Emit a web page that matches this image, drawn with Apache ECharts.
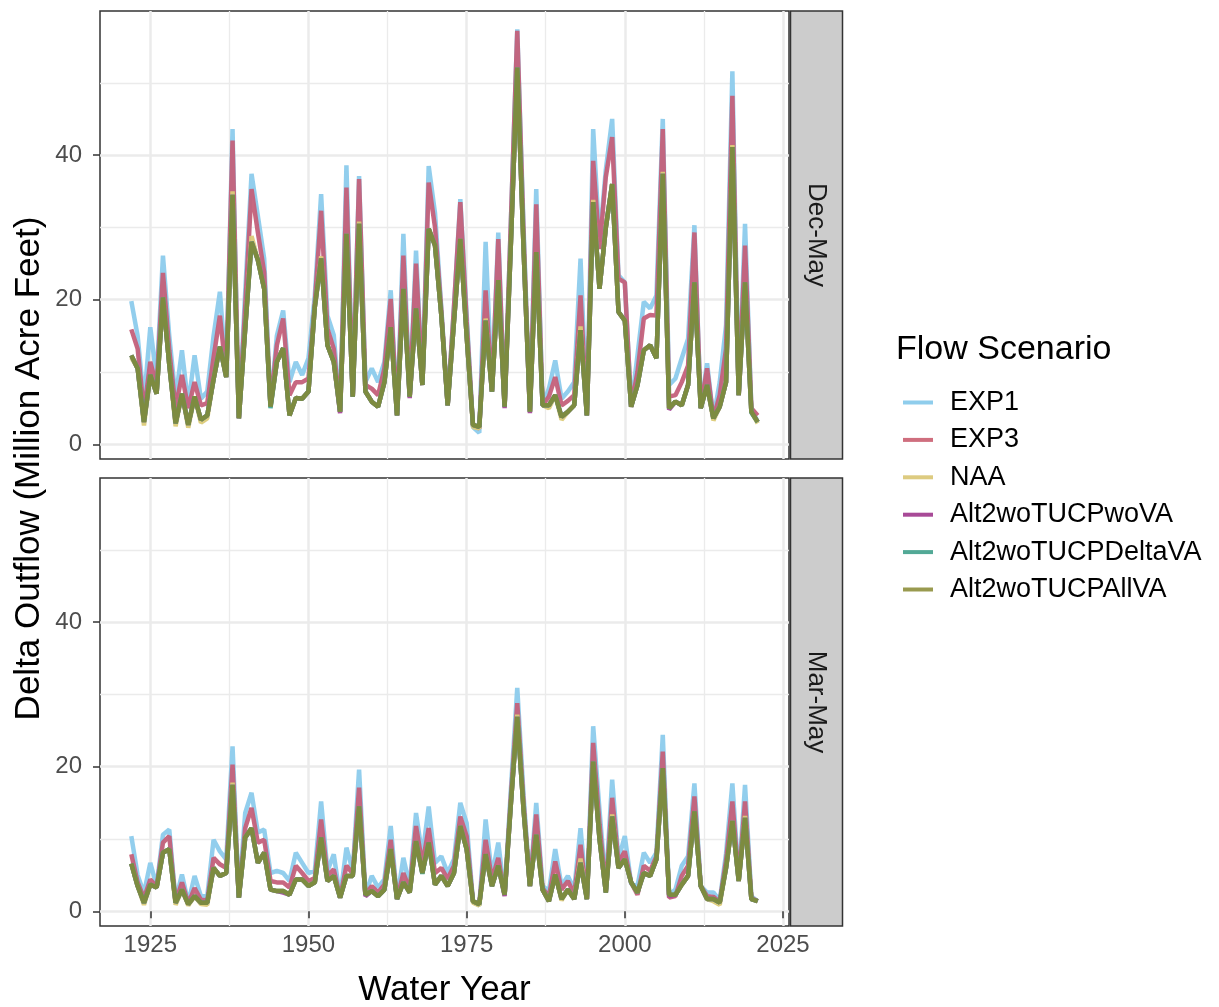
<!DOCTYPE html>
<html>
<head>
<meta charset="utf-8">
<script src="https://cdn.jsdelivr.net/npm/echarts@6/dist/echarts.min.js"></script>
<style>
  html, body { margin: 0; padding: 0; background: #fff; }
  #chart { width: 1219px; height: 1007px; }
</style>
</head>
<body>
<div id="chart"></div>
<script>
// water years 1922..2021
const years = [];
for (let y = 1922; y <= 2021; y++) years.push(y);

const scenarioNames = ["EXP1", "EXP3", "NAA", "Alt2woTUCPwoVA", "Alt2woTUCPDeltaVA", "Alt2woTUCPAllVA"];
// line colours as they show in the panels, and as they show in the legend keys
const lineColors = ["#8ccbec", "#c4607a", "#dccb78", "#a8479a", "#46a996", "#7f8a3b"];
const keyColors = ["#8fcdec", "#cf6e7e", "#ddcb80", "#a84a97", "#52a996", "#999a4f"];
const facetLabels = ["Dec-May", "Mar-May"];

const xTicks = [1925, 1950, 1975, 2000, 2025];
const xMinorTicks = [1937.5, 1962.5, 1987.5, 2012.5];
const yTicks = [0, 20, 40];
const yMinorTicks = [10, 30, 50];

// Dec-May outflow, million acre feet
const decMayExp1 = [
  19.8, 15.0, 5.9, 16.2, 9.1, 26.1, 15.0, 6.3, 13.0, 5.4,
  12.3, 6.3, 7.3, 15.0, 21.1, 9.6, 43.6, 3.6, 21.0, 37.4,
  31.6, 25.7, 5.4, 15.0, 18.5, 8.6, 11.4, 9.6, 11.9, 20.6,
  34.6, 17.8, 15.1, 4.5, 38.6, 6.6, 37.1, 8.6, 10.5, 8.6,
  11.4, 21.3, 4.0, 29.1, 6.6, 26.8, 8.2, 38.5, 32.0, 18.8,
  5.4, 19.0, 33.9, 18.0, 2.4, 1.6, 28.0, 7.3, 29.3, 5.2,
  31.0, 57.4, 30.0, 4.5, 35.3, 5.4, 7.7, 11.6, 6.3, 7.3,
  8.6, 25.7, 4.0, 43.6, 28.0, 38.0, 45.0, 23.4, 22.4, 5.2,
  12.3, 19.7, 18.8, 20.6, 45.0, 8.2, 9.1, 11.9, 14.6, 30.3,
  5.0, 11.2, 3.6, 8.6, 16.5, 51.6, 6.8, 30.5, 5.0, 3.1
];
const decMayExp3 = [
  15.9, 13.2, 4.5, 11.4, 8.0, 23.7, 13.0, 5.0, 9.6, 5.0,
  8.6, 5.4, 5.7, 12.0, 17.8, 9.6, 42.0, 3.6, 19.0, 35.3,
  29.3, 23.8, 5.4, 13.7, 17.4, 6.8, 8.6, 8.6, 9.1, 19.5,
  32.3, 16.0, 13.2, 4.5, 35.5, 6.6, 36.7, 8.2, 7.7, 6.8,
  10.5, 20.1, 4.0, 26.1, 6.6, 25.0, 8.2, 36.2, 30.0, 18.5,
  5.4, 19.0, 33.5, 17.0, 2.6, 2.2, 21.3, 7.3, 28.4, 5.2,
  31.0, 57.2, 29.0, 4.5, 33.2, 5.4, 6.6, 9.3, 5.4, 6.0,
  6.8, 20.6, 4.0, 39.2, 27.0, 37.0, 42.5, 22.9, 22.4, 5.2,
  10.0, 17.4, 17.9, 17.8, 43.6, 6.6, 6.8, 8.6, 10.9, 29.3,
  5.0, 10.5, 3.6, 6.8, 13.2, 48.2, 6.8, 27.5, 5.0, 4.0
];
const decMayNaa = [
  12.0, 10.5, 2.6, 9.6, 7.0, 20.3, 11.0, 2.5, 7.0, 2.3,
  6.6, 3.0, 3.6, 9.0, 13.5, 9.3, 35.0, 3.6, 16.0, 28.8,
  25.5, 21.5, 5.2, 11.4, 13.3, 4.0, 6.4, 6.3, 7.3, 19.0,
  26.0, 13.7, 11.4, 4.5, 29.1, 6.6, 30.8, 7.3, 5.9, 5.2,
  8.6, 16.2, 4.0, 21.5, 6.6, 18.8, 8.2, 29.8, 27.5, 17.8,
  5.4, 17.0, 28.4, 15.0, 2.4, 2.2, 17.4, 7.3, 22.7, 5.2,
  28.0, 52.1, 27.0, 4.5, 26.6, 5.4, 5.0, 6.8, 3.4, 4.5,
  5.4, 16.3, 4.0, 33.8, 21.5, 30.0, 36.0, 18.3, 17.1, 5.2,
  8.2, 13.0, 13.7, 11.9, 37.7, 5.0, 5.9, 5.4, 8.2, 22.4,
  5.0, 8.2, 3.3, 5.2, 8.6, 41.4, 6.8, 22.4, 4.5, 2.9
];
const decMayWoVA = [
  12.3, 10.5, 3.1, 9.6, 7.0, 20.3, 11.0, 2.9, 7.0, 2.7,
  6.6, 3.4, 4.0, 9.0, 13.5, 9.3, 34.5, 3.6, 16.0, 28.0,
  25.5, 21.5, 5.2, 11.4, 13.3, 4.0, 6.4, 6.3, 7.3, 19.0,
  25.7, 13.7, 11.4, 4.3, 29.1, 6.6, 30.5, 7.3, 5.9, 5.2,
  8.6, 16.2, 4.0, 21.5, 6.4, 18.8, 8.2, 29.8, 27.5, 17.8,
  5.4, 17.0, 28.4, 15.0, 2.7, 2.4, 17.1, 7.3, 22.7, 5.0,
  28.0, 52.1, 27.0, 4.3, 26.6, 5.4, 5.4, 6.8, 3.8, 4.5,
  5.4, 15.8, 4.0, 33.5, 21.5, 30.0, 36.0, 18.3, 17.1, 5.2,
  8.2, 13.0, 13.7, 11.9, 37.4, 4.8, 5.9, 5.4, 8.2, 22.4,
  5.0, 8.2, 3.6, 5.2, 8.6, 41.1, 6.8, 22.4, 4.5, 3.1
];
const decMayDeltaVA = [
  12.3, 10.5, 3.1, 9.6, 7.0, 20.3, 11.0, 2.9, 7.0, 2.7,
  6.6, 3.4, 4.0, 9.0, 13.5, 9.3, 34.5, 3.6, 16.0, 28.0,
  25.5, 21.5, 5.0, 11.4, 13.3, 4.0, 6.4, 6.3, 7.3, 19.0,
  25.7, 13.7, 11.4, 4.5, 29.1, 6.6, 30.5, 7.3, 5.9, 5.2,
  8.6, 16.2, 4.0, 21.5, 6.6, 18.8, 8.2, 29.8, 27.5, 17.8,
  5.4, 17.0, 28.4, 15.0, 2.7, 2.4, 17.1, 7.3, 22.7, 5.2,
  28.0, 52.1, 27.0, 4.5, 26.6, 5.4, 5.4, 6.8, 3.8, 4.5,
  5.4, 15.8, 4.0, 33.5, 21.5, 30.0, 36.0, 18.3, 17.1, 5.2,
  8.2, 13.0, 13.7, 11.9, 37.4, 5.0, 5.9, 5.4, 8.2, 22.4,
  5.0, 8.2, 3.6, 5.2, 8.6, 41.1, 6.8, 22.4, 4.4, 3.1
];
const decMayAllVA = [
  12.3, 10.5, 3.1, 9.6, 7.0, 20.3, 11.0, 2.9, 7.0, 2.7,
  6.6, 3.4, 4.0, 9.0, 13.5, 9.3, 34.5, 3.6, 16.0, 28.0,
  25.5, 21.5, 5.2, 11.4, 13.3, 4.0, 6.4, 6.3, 7.3, 19.0,
  25.7, 13.7, 11.4, 4.5, 29.1, 6.6, 30.5, 7.3, 5.9, 5.2,
  8.6, 16.2, 4.0, 21.5, 6.6, 18.8, 8.2, 29.8, 27.5, 17.8,
  5.4, 17.0, 28.4, 15.0, 2.7, 2.4, 17.1, 7.3, 22.7, 5.2,
  28.0, 52.1, 27.0, 4.5, 26.6, 5.4, 5.4, 6.8, 3.8, 4.5,
  5.4, 15.8, 4.0, 33.5, 21.5, 30.0, 36.0, 18.3, 17.1, 5.2,
  8.2, 13.0, 13.7, 11.9, 37.4, 5.0, 5.9, 5.4, 8.2, 22.4,
  5.0, 8.2, 3.6, 5.2, 8.6, 41.1, 6.8, 22.4, 4.5, 3.1
];

// Mar-May outflow, million acre feet
const marMayExp1 = [
  10.4, 5.0, 2.5, 6.7, 3.5, 10.6, 11.3, 1.5, 5.1, 1.2,
  4.9, 2.1, 2.1, 9.9, 8.3, 7.2, 22.8, 1.9, 13.6, 16.4,
  10.9, 11.3, 5.3, 5.6, 5.3, 4.2, 8.1, 6.7, 5.3, 5.6,
  15.2, 5.6, 7.9, 1.9, 8.8, 5.6, 19.6, 2.3, 4.9, 3.3,
  4.4, 11.8, 1.7, 7.4, 3.5, 13.6, 7.6, 14.5, 6.7, 7.6,
  5.3, 7.2, 15.0, 12.2, 1.4, 0.8, 12.7, 4.9, 9.5, 2.3,
  17.0, 30.9, 16.0, 3.5, 15.0, 3.5, 2.8, 8.6, 3.5, 4.9,
  3.0, 11.5, 1.7, 25.6, 14.0, 3.5, 18.2, 7.2, 10.4, 3.8,
  3.5, 8.1, 6.7, 8.1, 24.4, 2.3, 3.0, 6.3, 7.6, 17.7,
  3.5, 2.6, 2.6, 1.5, 8.0, 17.7, 4.4, 17.5, 2.1, 1.4
];
const marMayExp3 = [
  7.9, 4.0, 1.8, 4.4, 3.4, 9.5, 10.4, 1.3, 4.0, 1.1,
  3.2, 1.6, 1.5, 7.4, 6.5, 6.0, 20.3, 1.9, 11.5, 14.3,
  9.5, 9.9, 4.2, 4.0, 4.0, 3.3, 6.3, 5.3, 4.2, 4.6,
  12.7, 4.9, 5.8, 1.9, 6.3, 5.2, 17.1, 2.3, 3.5, 2.6,
  3.7, 9.9, 1.7, 5.3, 3.0, 11.8, 6.5, 11.5, 5.3, 6.0,
  4.5, 6.3, 13.1, 10.4, 1.4, 1.0, 9.9, 4.4, 7.4, 2.3,
  16.0, 28.8, 15.0, 3.5, 13.4, 3.2, 2.0, 6.9, 3.0, 4.2,
  2.4, 9.2, 1.7, 23.3, 12.0, 3.0, 15.7, 6.8, 8.3, 4.0,
  2.3, 6.3, 5.6, 7.6, 22.1, 1.9, 2.1, 4.9, 6.3, 15.9,
  3.5, 2.1, 2.0, 1.3, 7.0, 15.2, 4.3, 15.2, 1.9, 1.4
];
const marMayNaa = [
  6.6, 3.5, 0.9, 3.7, 3.3, 8.1, 8.6, 0.9, 3.0, 0.8,
  2.1, 1.0, 0.9, 6.0, 4.9, 5.3, 17.8, 1.9, 10.2, 11.5,
  6.7, 8.1, 3.0, 2.8, 2.8, 2.3, 4.4, 4.4, 3.5, 4.0,
  10.2, 4.2, 4.9, 1.9, 4.9, 4.9, 14.5, 2.3, 2.8, 2.1,
  3.0, 8.6, 1.7, 4.0, 2.6, 9.7, 5.3, 9.5, 3.7, 4.9,
  3.5, 5.3, 11.8, 8.6, 1.2, 0.8, 7.9, 3.5, 6.3, 2.3,
  15.0, 27.2, 14.0, 3.5, 10.6, 3.0, 1.4, 5.1, 1.5, 3.0,
  1.7, 7.3, 1.7, 20.7, 10.0, 2.6, 13.4, 6.0, 7.2, 4.0,
  2.6, 5.3, 4.9, 7.2, 19.8, 2.3, 2.3, 3.7, 4.9, 13.8,
  3.5, 1.7, 1.4, 0.9, 6.0, 12.5, 4.2, 13.2, 1.7, 1.4
];
const marMayWoVA = [
  6.6, 3.5, 1.2, 3.7, 3.3, 8.1, 8.6, 1.2, 3.0, 1.0,
  2.1, 1.2, 1.2, 6.0, 4.9, 5.3, 17.5, 1.9, 10.2, 11.5,
  6.7, 8.1, 3.0, 2.8, 2.6, 2.3, 4.4, 4.4, 3.5, 4.0,
  10.2, 4.2, 4.9, 1.9, 4.9, 4.9, 14.5, 2.1, 2.8, 2.1,
  3.0, 8.6, 1.7, 4.0, 2.6, 9.7, 5.3, 9.5, 3.7, 4.9,
  3.5, 5.3, 11.8, 8.6, 1.4, 1.0, 7.9, 3.5, 6.3, 2.1,
  15.0, 26.9, 14.0, 3.5, 10.6, 3.0, 1.4, 5.1, 1.7, 3.0,
  1.7, 6.7, 1.7, 20.7, 10.0, 2.6, 13.1, 6.0, 7.2, 4.0,
  2.6, 5.3, 4.9, 7.2, 19.8, 2.1, 2.3, 3.7, 4.9, 13.8,
  3.5, 1.7, 1.7, 1.2, 6.0, 12.5, 4.2, 12.9, 1.7, 1.4
];
const marMayDeltaVA = [
  6.6, 3.5, 1.2, 3.7, 3.3, 8.1, 8.6, 1.2, 3.0, 1.0,
  2.1, 1.2, 1.2, 6.0, 4.9, 5.3, 17.5, 1.9, 10.2, 11.5,
  6.7, 8.1, 3.0, 2.8, 2.8, 2.3, 4.4, 4.4, 3.5, 4.0,
  10.2, 4.2, 4.9, 1.9, 4.9, 4.9, 14.5, 2.3, 2.8, 2.1,
  3.0, 8.6, 1.7, 4.0, 2.6, 9.7, 5.2, 9.5, 3.7, 4.9,
  3.5, 5.3, 11.8, 8.6, 1.4, 1.0, 7.9, 3.5, 6.3, 2.3,
  15.0, 26.9, 14.0, 3.5, 10.6, 3.0, 1.4, 5.1, 1.7, 3.0,
  1.7, 6.7, 1.7, 20.7, 10.0, 2.6, 13.1, 6.0, 7.2, 4.0,
  2.6, 5.3, 4.9, 7.2, 19.8, 2.3, 2.3, 3.7, 4.9, 13.8,
  3.5, 1.7, 1.7, 1.2, 6.0, 12.5, 4.2, 12.9, 1.7, 1.4
];
const marMayAllVA = [
  6.6, 3.5, 1.2, 3.7, 3.3, 8.1, 8.6, 1.2, 3.0, 1.0,
  2.1, 1.2, 1.2, 6.0, 4.9, 5.3, 17.5, 1.9, 10.2, 11.5,
  6.7, 8.1, 3.0, 2.8, 2.8, 2.3, 4.4, 4.4, 3.5, 4.0,
  10.2, 4.2, 4.9, 1.9, 4.9, 4.9, 14.5, 2.3, 2.8, 2.1,
  3.0, 8.6, 1.7, 4.0, 2.6, 9.7, 5.3, 9.5, 3.7, 4.9,
  3.5, 5.3, 11.8, 8.6, 1.4, 1.0, 7.9, 3.5, 6.3, 2.3,
  15.0, 26.9, 14.0, 3.5, 10.6, 3.0, 1.4, 5.1, 1.7, 3.0,
  1.7, 6.7, 1.7, 20.7, 10.0, 2.6, 13.1, 6.0, 7.2, 4.0,
  2.6, 5.3, 4.9, 7.2, 19.8, 2.3, 2.3, 3.7, 4.9, 13.8,
  3.5, 1.7, 1.7, 1.2, 6.0, 12.5, 4.2, 12.9, 1.7, 1.4
];

const panelData = [
  [decMayExp1, decMayExp3, decMayNaa, decMayWoVA, decMayDeltaVA, decMayAllVA],
  [marMayExp1, marMayExp3, marMayNaa, marMayWoVA, marMayDeltaVA, marMayAllVA],
];

const font = "'Liberation Sans', Arial, Helvetica, sans-serif";
const plotLeft = 100, plotWidth = 689, panelHeight = 448;
const panelTops = [11, 478];
const stripLeft = 790.5, stripWidth = 52;
const xMin = 1917.05, xMax = 2025.95;
const yMin = -2.03, yMax = 59.93;

const chart = echarts.init(document.getElementById("chart"));

function toPairs(vals) {
  return years.map((yr, i) => [yr, vals[i]]);
}

const grids = panelTops.map((top) => ({
  left: plotLeft, top: top, width: plotWidth, height: panelHeight,
  show: true, borderColor: "#333333", borderWidth: 1.5, backgroundColor: "transparent",
}));

const xAxes = [
  // major gridlines, ticks and labels (labels only under the lower panel)
  ...panelTops.map((_, g) => ({
    type: "value", gridIndex: g, min: xMin, max: xMax,
    axisLine: { show: false },
    axisTick: { show: g === 1, customValues: xTicks, length: 7, lineStyle: { color: "#333333", width: 1.5 } },
    axisLabel: {
      show: g === 1, customValues: xTicks, fontSize: 24, color: "#4d4d4d", margin: 7, fontFamily: font,
      formatter: (v) => String(v),
    },
    splitLine: { show: true, lineStyle: { color: "#ebebeb", width: 2.5 } },
  })),
  // minor gridlines
  ...panelTops.map((_, g) => ({
    type: "value", gridIndex: g, min: xMin, max: xMax, position: "top",
    axisLine: { show: false },
    axisTick: { show: false, customValues: xMinorTicks },
    axisLabel: { show: false },
    splitLine: { show: true, lineStyle: { color: "#ebebeb", width: 1.3 } },
  })),
];

const yAxes = [
  ...panelTops.map((_, g) => ({
    type: "value", gridIndex: g, min: yMin, max: yMax,
    axisLine: { show: false },
    axisTick: { show: true, customValues: yTicks, length: 7, lineStyle: { color: "#333333", width: 1.5 } },
    axisLabel: { show: true, customValues: yTicks, fontSize: 24, color: "#4d4d4d", margin: 18, fontFamily: font },
    splitLine: { show: true, lineStyle: { color: "#ebebeb", width: 2.5 } },
  })),
  ...panelTops.map((_, g) => ({
    type: "value", gridIndex: g, min: yMin, max: yMax, position: "right",
    axisLine: { show: false },
    axisTick: { show: false, customValues: yMinorTicks },
    axisLabel: { show: false },
    splitLine: { show: true, lineStyle: { color: "#ebebeb", width: 1.3 } },
  })),
];

const series = [];
panelData.forEach((arrs, g) => {
  arrs.forEach((vals, k) => {
    series.push({
      name: scenarioNames[k],
      type: "line",
      xAxisIndex: g,
      yAxisIndex: g,
      data: toPairs(vals),
      symbol: "none",
      showSymbol: false,
      lineStyle: { color: lineColors[k], width: 4.5, opacity: 0.95 },
      itemStyle: { color: keyColors[k] },
      emphasis: { disabled: true },
    });
  });
});

const graphics = [];
panelTops.forEach((top, g) => {
  graphics.push({
    type: "rect",
    shape: { x: stripLeft, y: top, width: stripWidth, height: panelHeight },
    style: { fill: "#cccccc", stroke: "#333333", lineWidth: 1.5 },
  });
  graphics.push({
    type: "text",
    x: stripLeft + stripWidth / 2, y: top + panelHeight / 2,
    rotation: -Math.PI / 2,
    style: { text: facetLabels[g], fontSize: 26, fontFamily: font, fill: "#1a1a1a", align: "center", verticalAlign: "middle" },
  });
});
graphics.push({
  type: "text", x: 29, y: panelTops[0] + (panelTops[1] + panelHeight - panelTops[0]) / 2,
  rotation: Math.PI / 2,
  style: { text: "Delta Outflow (Million Acre Feet)", fontSize: 35, fontFamily: font, fill: "#000", align: "center", verticalAlign: "middle" },
});
graphics.push({
  type: "text", x: plotLeft + plotWidth / 2, y: 990,
  style: { text: "Water Year", fontSize: 35, fontFamily: font, fill: "#000", align: "center", verticalAlign: "middle" },
});
graphics.push({
  type: "text", x: 896, y: 350,
  style: { text: "Flow Scenario", fontSize: 34, fontFamily: font, fill: "#000", align: "left", verticalAlign: "middle" },
});

chart.setOption({
  animation: false,
  backgroundColor: "#ffffff",
  grid: grids,
  xAxis: xAxes,
  yAxis: yAxes,
  legend: {
    orient: "vertical",
    left: 898,
    top: 384,
    icon: "rect",
    itemWidth: 30,
    itemHeight: 4,
    itemGap: 10.4,
    selectedMode: false,
    data: scenarioNames.map((n, k) => ({ name: n, itemStyle: { color: keyColors[k] } })),
    textStyle: { fontSize: 27, color: "#000", fontFamily: font, lineHeight: 27, padding: [0, 0, 0, 12] },
  },
  series: series,
  graphic: graphics,
});
</script>
</body>
</html>
